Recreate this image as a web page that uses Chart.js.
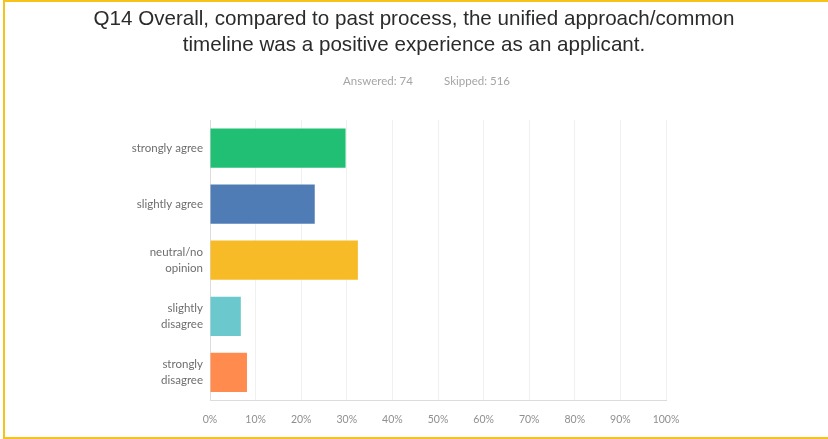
<!DOCTYPE html>
<html>
<head>
<meta charset="utf-8">
<script src="https://cdn.jsdelivr.net/npm/chart.js@4/dist/chart.umd.min.js"></script>
<style>
  html, body { margin: 0; padding: 0; background: #fff; }
  #frame {
    position: absolute; left: 3px; top: 0; width: 840px; height: 435px;
    border-left: 2px solid #f6c21c; border-top: 2px solid #f6c21c; border-bottom: 2px solid #f6c21c;
    box-sizing: content-box;
  }
  #wrap { position: absolute; left: 0; top: 0; width: 828px; height: 439px; }
</style>
</head>
<body>
<div id="frame"></div>
<div id="wrap"><canvas id="c" width="828" height="439"></canvas></div>
<script>
const titleLines = [
  'Q14 Overall, compared to past process, the unified approach/common',
  'timeline was a positive experience as an applicant.'
];
const answered = 74;
const skipped = 516;
const categories = [
  ['strongly agree'],
  ['slightly agree'],
  ['neutral/no', 'opinion'],
  ['slightly', 'disagree'],
  ['strongly', 'disagree']
];
// share of respondents, percent
const responsePercent = [29.73, 22.97, 32.43, 6.76, 8.11];
const barColors = ['#21bf73', '#507cb6', '#f7bb27', '#6bc8cd', '#ff8b4f'];
const xTicks = [0, 10, 20, 30, 40, 50, 60, 70, 80, 90, 100];

// Question heading and response counts, centred on the whole canvas
const headerPlugin = {
  id: 'header',
  afterDraw(chart) {
    const ctx = chart.ctx;
    const cx = chart.width / 2;
    ctx.save();
    ctx.textAlign = 'center';
    ctx.textBaseline = 'middle';
    ctx.fillStyle = '#2b2b2b';
    ctx.font = '20.6px "Liberation Sans"';
    ctx.fillText(titleLines[0], cx, 19);
    ctx.fillText(titleLines[1], cx, 45);
    ctx.fillStyle = '#a5a5a5';
    ctx.font = '11.5px Lato';
    ctx.fillText('Answered: ' + answered, cx - 36, 81);
    ctx.fillText('Skipped: ' + skipped, cx + 63, 81);
    ctx.restore();
  }
};

new Chart(document.getElementById('c'), {
  type: 'bar',
  data: {
    labels: categories,
    datasets: [{
      data: responsePercent,
      backgroundColor: barColors,
      borderWidth: 0,
      barPercentage: 0.7,
      categoryPercentage: 1.0
    }]
  },
  plugins: [headerPlugin],
  options: {
    indexAxis: 'y',
    responsive: false,
    animation: false,
    layout: { padding: { left: 10, right: 162, top: 120, bottom: 0 } },
    plugins: {
      legend: { display: false },
      tooltip: { enabled: false },
      title: { display: false }
    },
    scales: {
      x: {
        min: 0, max: 100,
        afterBuildTicks: (s) => { s.ticks = xTicks.map(v => ({ value: v })); },
        ticks: {
          callback: (v) => v + '%',
          color: '#8f8f8f',
          font: { family: 'Lato', size: 10.5 },
          padding: 13,
          maxRotation: 0
        },
        grid: { color: '#f0f0f0', drawTicks: false },
        border: { color: '#dcdcdc' }
      },
      y: {
        afterFit: (s) => { s.width = 200; },
        ticks: {
          color: '#6e6e6e',
          font: { family: 'Lato', size: 11.5, lineHeight: 1.45 },
          padding: 7
        },
        grid: { display: false, drawTicks: false },
        border: { color: '#dcdcdc' }
      }
    }
  }
});
</script>
</body>
</html>
